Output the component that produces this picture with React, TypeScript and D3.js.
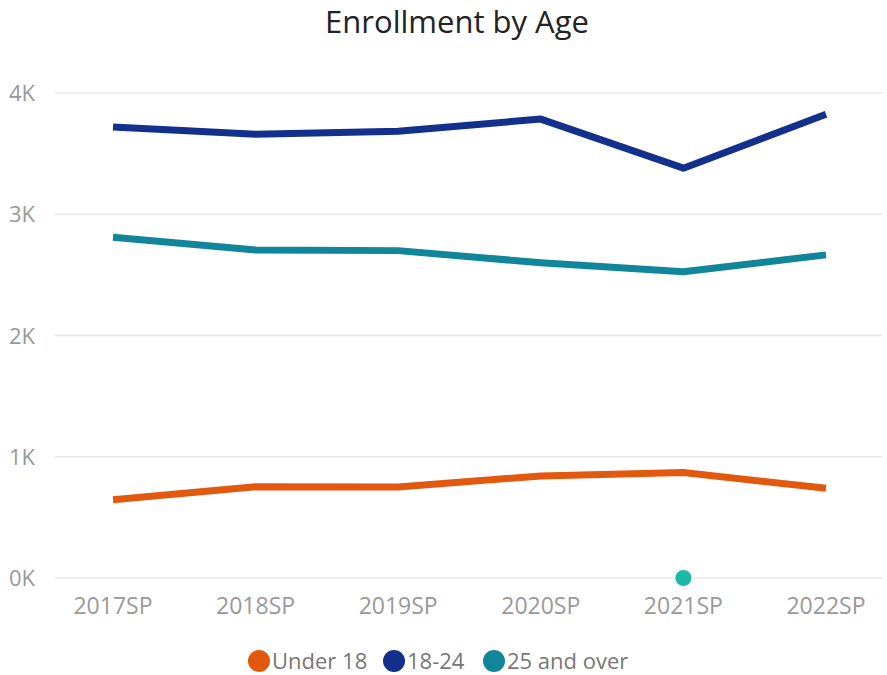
import React from "react";
import * as d3 from "d3";

const categories = ["2017SP", "2018SP", "2019SP", "2020SP", "2021SP", "2022SP"];
const under18 = [645, 752, 750, 842, 870, 740];
const age18to24 = [3720, 3660, 3685, 3785, 3380, 3825];
const age25over = [2810, 2705, 2700, 2600, 2525, 2665];
const strayCategory = "2021SP";
const strayValue = 0;
const yTicks = [0, 1000, 2000, 3000, 4000];
const yTickLabels = ["0K", "1K", "2K", "3K", "4K"];
const seriesNames = ["Under 18", "18-24", "25 and over"];
const seriesColors = ["#E3580F", "#12308C", "#11869A"];
const strayColor = "#1BB8A6";

const W = 887;
const H = 675;

export default function App() {
  const x = d3.scalePoint<string>().domain(categories).range([113, 826]);
  const y = d3.scaleLinear().domain([0, 4000]).range([578, 93]);
  const line = d3
    .line<number>()
    .x((_, i) => x(categories[i]) as number)
    .y((d) => y(d));
  const series = [under18, age18to24, age25over];
  const font = "'Open Sans', sans-serif";

  const legendX = [259, 394, 494];

  return (
    <svg width={W} height={H} style={{ position: "absolute", left: 0, top: 0, background: "#fff" }}>
      <text x={457} y={33} textAnchor="middle" fontFamily={font} fontSize={31} fill="#222">
        Enrollment by Age
      </text>
      {yTicks.map((t, i) => (
        <g key={t}>
          <line x1={55} x2={882} y1={y(t)} y2={y(t)} stroke="#e8e8e8" strokeWidth={1.5} />
          <text x={35} y={y(t) + 8} textAnchor="end" fontFamily={font} fontSize={22} fill="#999">
            {yTickLabels[i]}
          </text>
        </g>
      ))}
      {categories.map((c) => (
        <text key={c} x={x(c)} y={614} textAnchor="middle" fontFamily={font} fontSize={23} fill="#999">
          {c}
        </text>
      ))}
      {series.map((s, i) => (
        <path key={i} d={line(s) || ""} fill="none" stroke={seriesColors[i]} strokeWidth={7} strokeLinejoin="round" />
      ))}
      <circle cx={x(strayCategory)} cy={y(strayValue)} r={8} fill={strayColor} />
      {seriesNames.map((n, i) => (
        <g key={n}>
          <circle cx={legendX[i]} cy={661} r={11} fill={seriesColors[i]} />
          <text x={legendX[i] + 13} y={669} fontFamily={font} fontSize={22} fill="#777">
            {n}
          </text>
        </g>
      ))}
    </svg>
  );
}
